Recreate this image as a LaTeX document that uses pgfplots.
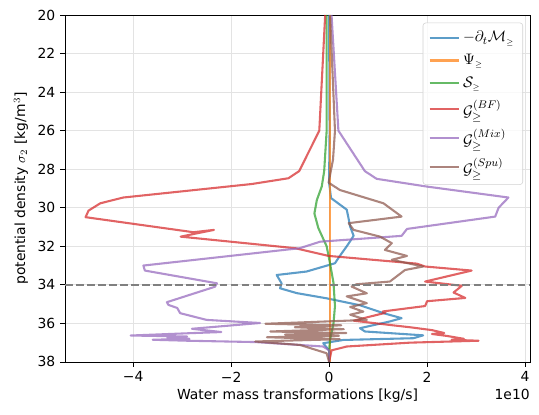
\documentclass[border=0pt]{standalone}
\usepackage{pgfplots}
\pgfplotsset{compat=1.18}
\usepackage{fontspec}
\setmainfont{DejaVu Sans}
\definecolor{tabblue}{HTML}{1F77B4}
\definecolor{taborange}{HTML}{FF7F0E}
\definecolor{tabgreen}{HTML}{2CA02C}
\definecolor{tabred}{HTML}{D62728}
\definecolor{tabpurple}{HTML}{9467BD}
\definecolor{tabbrown}{HTML}{8C564B}
\begin{document}
\begin{tikzpicture}
\useasboundingbox (-46.8pt,-38.2pt) rectangle (341.3pt,260.6pt);
\begin{axis}[
  at={(0pt,0pt)}, anchor=south west,
  scale only axis, width=334.8pt, height=249.8pt,
  xmin=-5.39, xmax=4.1, ymin=20, ymax=38, y dir=reverse,
  xtick={-4,-2,0,2,4}, xticklabels={−4,−2,0,2,4},
  ytick={20,22,...,38},
  /pgf/number format/assume math mode=true,
  grid=major, major grid style={gray!22, line width=0.6pt},
  tick align=outside, major tick length=3.5pt,
  tick style={black, line width=0.6pt},
  xtick pos=left, ytick pos=left,
  axis line style={line width=0.6pt},
  tick label style={font=\fontsize{10}{12}\selectfont},
  label style={font=\fontsize{10}{12}\selectfont},
  xlabel={Water mass transformations [kg/s]},
  ylabel={potential density $\sigma_2$ [kg/m$^3$]},
  xlabel style={yshift=2pt},
  legend cell align=left,
  legend style={at={(0.985,0.978)}, anchor=north east, draw=gray!35, rounded corners=2pt,
    fill=white, fill opacity=0.8, text opacity=1, draw opacity=1,
    font=\fontsize{11}{13}\selectfont, row sep=3.5pt, inner sep=4pt},
  legend image code/.code={\draw[#1, line width=1.5pt] (0cm,0cm) -- (0.75cm,0cm);},
  every axis plot/.append style={line width=1.5pt, draw opacity=0.72, line join=round},
  clip=true,
]
\addplot[tabblue] coordinates {(0.0,20) (0.01,26) (0.0,28.7) (0.04,29.5) (0.36,30.1) (0.39,30.46) (0.43,30.98) (0.5,31.45) (0.44,31.7) (0.36,32.0) (0.22,32.5) (0.12,32.88) (-0.46,33.31) (-1.07,33.49) (-0.97,33.92) (-1.0,34.18) (-0.66,34.43) (-0.05,34.7) (0.63,35.06) (1.11,35.47) (1.48,35.73) (1.24,35.9) (0.63,36.25) (0.73,36.42) (1.92,36.62) (1.72,36.77) (0.29,36.86) (-0.12,37.03) (0.0,37.4) (0.0,38)};
\addlegendentry{$-\partial_t\mathcal{M}_{\scriptscriptstyle\geq}$}
\addplot[taborange] coordinates {(0.01,20) (0.01,38)};
\addlegendentry{$\Psi_{\scriptscriptstyle\geq}$}
\addplot[tabgreen] coordinates {(-0.05,20) (-0.05,26) (-0.1,28.1) (-0.15,28.9) (-0.25,29.6) (-0.3,30.3) (-0.22,31.05) (-0.05,32.0) (0.02,32.9) (0.09,33.9) (0.12,35.1) (0.09,36.0) (0.02,36.85) (0,37.4) (0,38)};
\addlegendentry{$\mathcal{S}_{\scriptscriptstyle\geq}$}
\addplot[tabred] coordinates {(-0.08,20) (-0.2,26.0) (-0.61,28.1) (-0.83,28.47) (-1.58,28.77) (-4.2,29.47) (-4.67,29.77) (-4.91,30.15) (-4.97,30.49) (-2.77,31.27) (-2.35,31.15) (-3.03,31.5) (-0.69,32.1) (-0.01,32.5) (1.79,32.9) (1.96,33.05) (2.91,33.26) (1.96,33.83) (2.71,34.05) (2.54,34.4) (2.78,34.68) (2.0,34.85) (1.96,35.1) (1.1,35.38) (1.15,35.45) (0.5,35.86) (1.3,36.1) (1.65,36.2) (2.1,36.35) (2.35,36.5) (2.1,36.55) (2.4,36.65) (2.75,36.8) (2.5,36.85) (3.05,36.9) (1.65,37.0) (0.36,37.2) (0.05,37.4) (0,38)};
\addlegendentry{$\mathcal{G}^{(BF)}_{\geq}$}
\addplot[tabpurple] coordinates {(0.05,20) (0.19,26) (0.73,28.1) (0.97,28.5) (1.99,28.9) (3.66,29.47) (3.46,30.0) (3.39,30.46) (1.59,31.1) (1.48,31.46) (-0.18,31.76) (-0.6,32.1) (-3.79,33.0) (-3.76,33.26) (-2.29,33.92) (-2.33,34.1) (-3.31,34.9) (-3.28,35.04) (-3.1,35.2) (-3.04,35.47) (-2.5,35.82) (-1.41,35.98) (-2.8,36.28) (-2.2,36.45) (-2.75,36.5) (-4.05,36.63) (-2.9,36.68) (-3.3,36.75) (-2.85,36.8) (-3.6,36.85) (-2.9,36.9) (-1.5,36.97) (-0.12,37.2) (0,37.4) (0,38)};
\addlegendentry{$\mathcal{G}^{(Mix)}_{\geq}$}
\addplot[tabbrown] coordinates {(0.02,20) (0.12,26) (0.08,27.5) (-0.01,28.7) (0.22,29.08) (1.11,29.77) (1.48,30.46) (0.4,30.8) (0.5,31.15) (1.04,31.5) (1.28,31.84) (1.14,32.19) (1.59,32.5) (1.28,32.7) (1.92,33.05) (1.55,33.23) (1.24,33.83) (0.56,33.97) (0.46,34.09) (0.77,34.44) (0.36,34.6) (0.77,34.95) (0.43,35.15) (0.7,35.39) (0.43,35.55) (0.77,35.82) (-1.3,36.02) (0.25,36.1) (-0.7,36.2) (0.3,36.3) (-1.2,36.42) (0.35,36.5) (-0.9,36.58) (0.2,36.65) (-1.27,36.72) (0.22,36.82) (-1.51,36.94) (-0.59,37.12) (-0.05,37.55) (0,38)};
\addlegendentry{$\mathcal{G}^{(Spu)}_{\geq}$}
\addplot[gray, draw opacity=1, dash pattern=on 5.55pt off 2.4pt, forget plot] coordinates {(-5.39,34) (4.1,34)};
\end{axis}
\node[anchor=north east, font=\fontsize{10}{12}\selectfont, inner sep=0pt] at (334.8pt,-19.5pt) {1e10};
\end{tikzpicture}
\end{document}
